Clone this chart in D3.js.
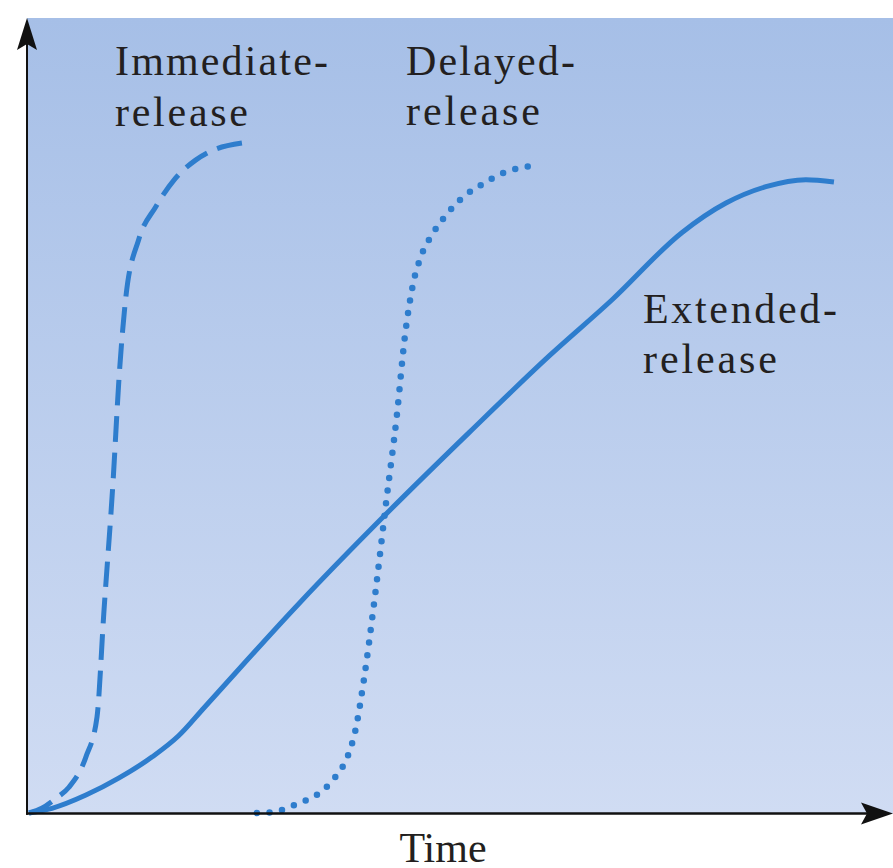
<!DOCTYPE html>
<html>
<head>
<meta charset="utf-8">
<script src="https://cdn.jsdelivr.net/npm/d3@7"></script>
<style>
  html, body { margin: 0; padding: 0; background: #ffffff; }
  svg { display: block; }
</style>
</head>
<body>
<svg id="chart" width="893" height="868"></svg>
<script>
// ---- Data (time on x, 0-100; drug level on y, 0-100) ----
const immediateTime  = [0, 1.5, 3.2, 4.7, 6.7, 8.0, 8.8, 9.9, 10.6, 11.4, 12.9, 14.9, 17.1, 19.6, 21.5, 25.1];
const immediateLevel = [0, 0.6, 1.9, 3.3, 7.2, 12.3, 25.6, 42.7, 55.9, 66.2, 73.5, 77.7, 81.2, 83.7, 84.9, 85.9];

const delayedTime  = [26.8, 28.6, 31.6, 34.2, 36.1, 37.5, 38.4, 39.4, 40.6, 42.0, 43.3, 44.2, 45.2, 46.1, 47.4, 49.1, 50.9, 53.3, 55.9, 58.8];
const delayedLevel = [0, 0.1, 1.2, 2.6, 4.7, 7.3, 10.6, 17.1, 26.9, 39.7, 51.2, 60.9, 67.9, 71.3, 74.1, 76.7, 78.8, 80.6, 82.1, 82.9];

const extendedTime  = [0, 2.7, 6.7, 10.6, 14.5, 17.6, 20.6, 31.8, 41.8, 51.8, 61.2, 68.6, 76.8, 82.0, 86.7, 91.4, 94.7];
const extendedLevel = [0, 0.6, 2.3, 4.5, 7.2, 9.9, 13.5, 26.9, 38.1, 48.8, 58.6, 65.8, 74.4, 78.2, 80.3, 81.2, 80.9];

const seriesNames  = ["Immediate-release", "Delayed-release", "Extended-release"];
const labelLines   = [["Immediate-", "release"], ["Delayed-", "release"], ["Extended-", "release"]];
const xAxisLabel   = "Time";

// ---- Layout ----
const W = 893, H = 868;
const x = d3.scaleLinear().domain([0, 100]).range([29, 879]);
const y = d3.scaleLinear().domain([0, 100]).range([813, 33]);

const svg = d3.select("#chart");
const defs = svg.append("defs");
const grad = defs.append("linearGradient")
  .attr("id", "bg").attr("x1", 0).attr("y1", 0).attr("x2", 0).attr("y2", 1);
grad.append("stop").attr("offset", "0%").attr("stop-color", "#a6bfe7");
grad.append("stop").attr("offset", "100%").attr("stop-color", "#d0dcf3");

const axisX0 = 27, axisTop = 18, axisY0 = 813.5, axisRight = 893;

// background panel
svg.append("rect")
  .attr("x", axisX0).attr("y", axisTop)
  .attr("width", W - axisX0).attr("height", axisY0 - axisTop)
  .attr("fill", "url(#bg)");

// curves
const lineColor = "#2e7dcd";
const lineGen = d3.line()
  .x(d => x(d[0])).y(d => y(d[1]))
  .curve(d3.curveMonotoneX);

const zip = (a, b) => a.map((v, i) => [v, b[i]]);
const series = [
  { name: seriesNames[0], pts: zip(immediateTime, immediateLevel), type: "dash", width: 5, cap: "butt" },
  { name: seriesNames[1], pts: zip(delayedTime, delayedLevel), type: "dot", width: 6.5, cap: "round" },
  { name: seriesNames[2], pts: zip(extendedTime, extendedLevel), type: "solid", width: 5, cap: "butt" }
];

svg.append("g").selectAll("path")
  .data(series)
  .join("path")
  .attr("d", d => lineGen(d.pts))
  .attr("fill", "none")
  .attr("stroke", lineColor)
  .attr("stroke-width", d => d.width)
  .attr("stroke-linecap", d => d.cap)
  .each(function(d) {
    const L = this.getTotalLength();
    if (d.type === "dot") {
      const n = Math.round(L / 12.8);
      this.setAttribute("stroke-dasharray", `0 ${L / n - 0.02}`);
    } else if (d.type === "dash") {
      const n = Math.round((L - 26) / 37);
      const period = (L - 26) / n;
      this.setAttribute("stroke-dasharray", `${period * 0.7} ${period * 0.3}`);
    }
  });

// axes
const axisColor = "#111111";
svg.append("line")
  .attr("x1", axisX0).attr("y1", axisY0 + 1.2).attr("x2", axisX0).attr("y2", axisTop + 10)
  .attr("stroke", axisColor).attr("stroke-width", 2);
svg.append("line")
  .attr("x1", axisX0 - 1).attr("y1", axisY0).attr("x2", axisRight - 10).attr("y2", axisY0)
  .attr("stroke", axisColor).attr("stroke-width", 2.6);

// arrowheads (stealth style)
svg.append("path")
  .attr("d", `M${axisX0},${axisTop} L${axisX0 + 10},${axisTop + 32} L${axisX0},${axisTop + 26} L${axisX0 - 10},${axisTop + 32} Z`)
  .attr("fill", axisColor);
svg.append("path")
  .attr("d", `M${axisRight},${axisY0} L${axisRight - 32},${axisY0 - 11} L${axisRight - 26},${axisY0} L${axisRight - 32},${axisY0 + 11} Z`)
  .attr("fill", axisColor);

// labels
const labelFont = "'Liberation Serif', 'Times New Roman', serif";
const labelSpecs = [
  { lines: labelLines[0], x: 115, y: [75, 126], len: [213, 133] },
  { lines: labelLines[1], x: 406, y: [75, 125], len: [169, 134] },
  { lines: labelLines[2], x: 643, y: [323, 373], len: [194, 134] }
];
const lg = svg.append("g")
  .attr("font-family", labelFont).attr("font-size", 42).attr("fill", "#231f20");
labelSpecs.forEach(s => {
  s.lines.forEach((t, i) => {
    lg.append("text")
      .attr("x", s.x).attr("y", s.y[i])
      .attr("textLength", s.len[i]).attr("lengthAdjust", "spacing")
      .text(t);
  });
});

svg.append("text")
  .attr("x", 443).attr("y", 862)
  .attr("text-anchor", "middle")
  .attr("font-family", labelFont).attr("font-size", 42).attr("fill", "#231f20")
  .text(xAxisLabel);
</script>
</body>
</html>
